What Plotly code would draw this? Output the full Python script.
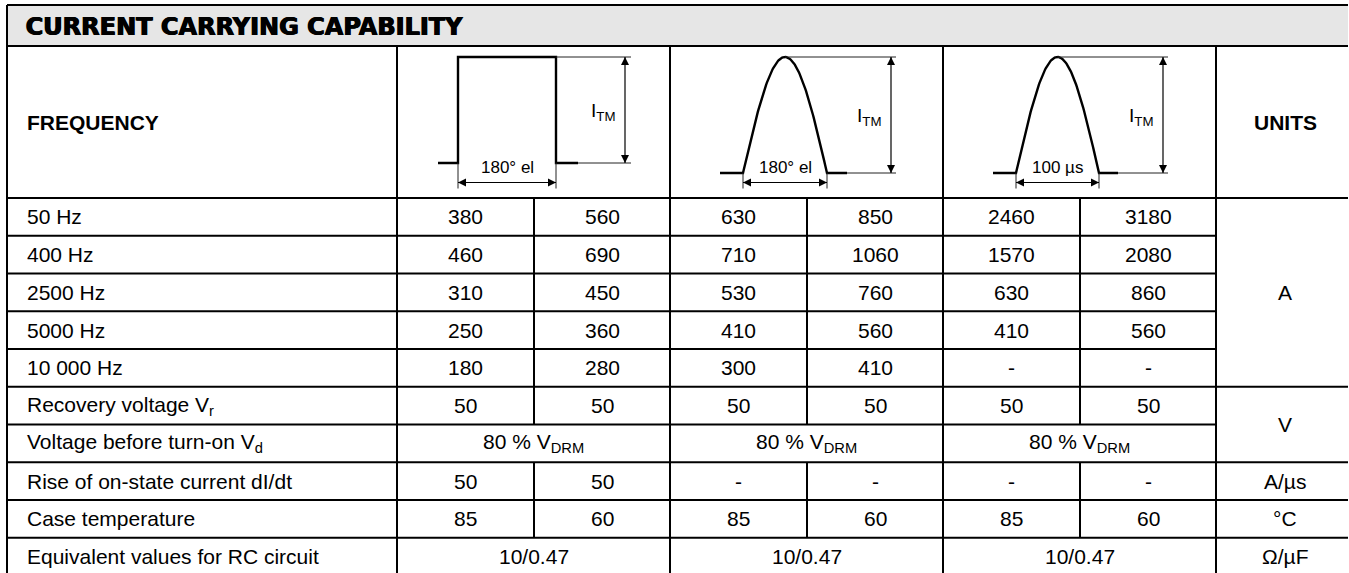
import numpy as np
import plotly.graph_objects as go

W, H = 1349, 573

# ---------------- data ----------------
title = "CURRENT CARRYING CAPABILITY"
header_left = "FREQUENCY"
header_right = "UNITS"

freq_labels = ["50 Hz", "400 Hz", "2500 Hz", "5000 Hz", "10 000 Hz"]
rect_low = [380, 460, 310, 250, 180]
rect_high = [560, 690, 450, 360, 280]
sine_low = [630, 710, 530, 410, 300]
sine_high = [850, 1060, 760, 560, 410]
pulse_low = [2460, 1570, 630, 410, "-"]
pulse_high = [3180, 2080, 860, 560, "-"]

recovery_label = "Recovery voltage V<sub>r</sub>"
recovery_vals = [50, 50, 50, 50, 50, 50]
vd_label = "Voltage before turn-on V<sub>d</sub>"
vd_vals = ["80 % V<sub>DRM</sub>", "80 % V<sub>DRM</sub>", "80 % V<sub>DRM</sub>"]
didt_label = "Rise of on-state current dI/dt"
didt_vals = [50, 50, "-", "-", "-", "-"]
case_label = "Case temperature"
case_vals = [85, 60, 85, 60, 85, 60]
rc_label = "Equivalent values for RC circuit"
rc_vals = ["10/0.47", "10/0.47", "10/0.47"]

unit_labels = ["A", "V", "A/µs", "°C", "Ω/µF"]
unit_spans = [(0, 5), (5, 7), (7, 8), (8, 9), (9, 10)]

wave_width_labels = ["180° el", "180° el", "100 µs"]
wave_height_label = "I<sub>TM</sub>"

# ---------------- layout geometry ----------------
X = [7, 397, 534, 670, 807, 943, 1080, 1216, 1348]
Y_TOP, Y_TITLE, Y_HEAD = 5, 46, 198
ROW_H = 37.75
N_ROWS = 10
Y_BOT = Y_HEAD + N_ROWS * ROW_H
merged_rows = [6, 9]
UNIT_MID = 1285

FONT = "Liberation Sans, Arial, sans-serif"
BLACK = "#000000"
FS = 21

shapes = []
annotations = []
arrow_x, arrow_y, arrow_sym = [], [], []


def line(x0, y0, x1, y1, w=2, color=BLACK):
    shapes.append(dict(type="line", xref="x", yref="y", x0=x0, y0=y0, x1=x1, y1=y1,
                       line=dict(color=color, width=w)))


def text(x, y, s, size=FS, anchor="center", bold=False, family=FONT, shadow=None):
    font = dict(family=family, size=size, color=BLACK, weight="bold" if bold else "normal")
    if shadow:
        font["shadow"] = shadow
    annotations.append(dict(x=x, y=y, xref="x", yref="y", text=s, showarrow=False,
                            xanchor=anchor, yanchor="middle", font=font))


def darrow(x0, y0, x1, y1):
    line(x0, y0, x1, y1, w=1.2)
    arrow_x.extend([x0, x1]); arrow_y.extend([y0, y1])
    if x0 == x1:
        arrow_sym.extend(["arrow-up", "arrow-down"])
    else:
        arrow_sym.extend(["arrow-left", "arrow-right"])


# title band
shapes.append(dict(type="rect", xref="x", yref="y", x0=X[0], x1=X[-1], y0=Y_TOP, y1=Y_TITLE,
                   fillcolor="#e6e6e6", line=dict(width=0), layer="below"))

row_top = [Y_HEAD + i * ROW_H for i in range(N_ROWS + 1)]
row_mid = [Y_HEAD + (i + 0.5) * ROW_H for i in range(N_ROWS)]

# horizontal lines
line(X[0], Y_TOP, X[-1], Y_TOP)
line(X[0], Y_TITLE, X[-1], Y_TITLE)
line(X[0], Y_HEAD, X[-1], Y_HEAD)
unit_breaks = [Y_HEAD + e * ROW_H for _, e in unit_spans]
for i in range(1, N_ROWS + 1):
    y = row_top[i]
    x_end = X[-1] if any(abs(y - u) < 0.01 for u in unit_breaks) else X[7]
    line(X[0], y, x_end, y)

# vertical lines
line(X[0], Y_TOP, X[0], Y_BOT)
for xi in (X[1], X[3], X[5], X[7]):
    line(xi, Y_TITLE, xi, Y_BOT)
for xi in (X[2], X[4], X[6]):
    for i in range(N_ROWS):
        if i in merged_rows:
            continue
        line(xi, row_top[i], xi, row_top[i + 1])

# title + header text
text(23, (Y_TOP + Y_TITLE) / 2 + 1, title, size=24, anchor="left", bold=True,
     family="DejaVu Sans, sans-serif", shadow="0.7px 0 0 #000, 1.2px 0 0 #000")
head_mid = (Y_TITLE + Y_HEAD) / 2
text(25, head_mid, header_left, anchor="left", bold=True)
text(UNIT_MID, head_mid, header_right, bold=True)

# body rows
col_mid = [(X[k] + X[k + 1]) / 2 for k in range(1, 7)]
grp_mid = [(X[1] + X[3]) / 2, (X[3] + X[5]) / 2, (X[5] + X[7]) / 2]

freq_cols = [rect_low, rect_high, sine_low, sine_high, pulse_low, pulse_high]
for i, lab in enumerate(freq_labels):
    text(25, row_mid[i], lab, anchor="left")
    for k, col in enumerate(freq_cols):
        text(col_mid[k], row_mid[i], str(col[i]))

six_rows = {5: (recovery_label, recovery_vals), 7: (didt_label, didt_vals), 8: (case_label, case_vals)}
for i, (lab, vals) in six_rows.items():
    text(25, row_mid[i], lab, anchor="left")
    for k, v in enumerate(vals):
        text(col_mid[k], row_mid[i], str(v))

three_rows = {6: (vd_label, vd_vals), 9: (rc_label, rc_vals)}
for i, (lab, vals) in three_rows.items():
    text(25, row_mid[i], lab, anchor="left")
    for k, v in enumerate(vals):
        text(grp_mid[k], row_mid[i], v)

for u, (s, e) in zip(unit_labels, unit_spans):
    text(UNIT_MID, (row_top[s] + row_top[e]) / 2, u)

# ---------------- waveforms in header ----------------
traces = []
TOP_Y = 57
DIM_Y = 182.5
waves = [
    dict(kind="rect", base=163, x0=458, x1=556, stub_l=20, stub_r=22, ax=625, ref=631),
    dict(kind="sine", base=173, x0=743, x1=827, stub_l=23, stub_r=20, ax=891, ref=896),
    dict(kind="sine", base=173, x0=1016, x1=1099, stub_l=23, stub_r=19, ax=1163, ref=1168),
]
for w, wl in zip(waves, wave_width_labels):
    b, x0, x1 = w["base"], w["x0"], w["x1"]
    if w["kind"] == "rect":
        xs = [x0 - w["stub_l"], x0, x0, x1, x1, x1 + w["stub_r"]]
        ys = [b, b, TOP_Y, TOP_Y, b, b]
        top_ref_x = x1
    else:
        t = np.linspace(0, 1, 121)
        xs = list(x0 + t * (x1 - x0))
        ys = list(b - (b - TOP_Y) * np.sin(np.pi * t))
        xs = [x0 - w["stub_l"]] + xs + [x1 + w["stub_r"]]
        ys = [b] + ys + [b]
        top_ref_x = (x0 + x1) / 2
    traces.append(go.Scatter(x=xs, y=ys, mode="lines", line=dict(color=BLACK, width=2.4),
                             hoverinfo="skip", showlegend=False))
    line(top_ref_x, TOP_Y, w["ref"], TOP_Y, w=1, color="#222")
    line(x1 + w["stub_r"], b, w["ref"], b, w=1, color="#222")
    darrow(w["ax"], TOP_Y, w["ax"], b)
    text(w["ax"] - 8, (TOP_Y + b) / 2 + 2, wave_height_label, size=19, anchor="right")
    line(x0, b, x0, DIM_Y + 6, w=1, color="#222")
    line(x1, b, x1, DIM_Y + 6, w=1, color="#222")
    darrow(x0, DIM_Y, x1, DIM_Y)
    text((x0 + x1) / 2, 167, wl, size=17)

traces.append(go.Scatter(x=arrow_x, y=arrow_y, mode="markers",
                         marker=dict(symbol=arrow_sym, size=8, color=BLACK,
                                     line=dict(width=0)),
                         hoverinfo="skip", showlegend=False))

fig = go.Figure(data=traces)
fig.update_layout(
    width=W, height=H,
    margin=dict(l=0, r=0, t=0, b=0),
    paper_bgcolor="white", plot_bgcolor="white",
    xaxis=dict(range=[0, W], visible=False, fixedrange=True),
    yaxis=dict(range=[H, 0], visible=False, fixedrange=True),
    shapes=shapes, annotations=annotations, showlegend=False,
)
fig.write_html(
    "out.html",
    config={"displayModeBar": False},
    post_script="document.body.style.margin='0';document.body.style.overflow='hidden';",
)
